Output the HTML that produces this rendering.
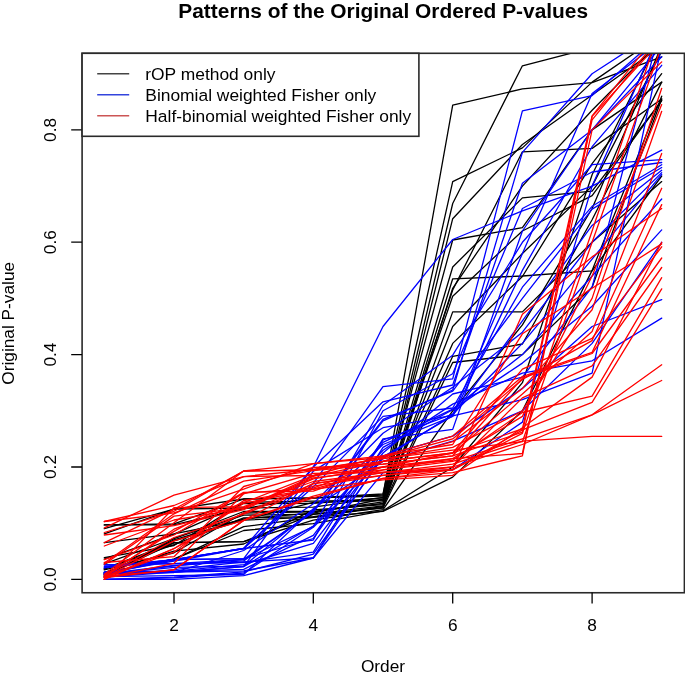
<!DOCTYPE html>
<html><head><meta charset="utf-8"><style>
html,body{margin:0;padding:0;background:#fff;}
svg{display:block;}
text{font-family:"Liberation Sans",Arial,sans-serif;fill:#000;}
</style></head><body>
<svg width="685" height="678" viewBox="0 0 685 678">
<rect width="685" height="678" fill="#fff"/>
<text x="383.2" y="17.8" font-size="20.9" font-weight="bold" text-anchor="middle">Patterns of the Original Ordered P-values</text>
<clipPath id="pc"><rect x="82" y="53.3" width="602.4" height="539.3"/></clipPath>
<g clip-path="url(#pc)" fill="none" stroke-width="1.3" stroke-linejoin="round" stroke-linecap="round">
<polyline points="104.3,533.9 174.0,509.2 243.7,499.0 313.3,497.9 383.0,495.1 452.7,105.2 522.4,88.9 592.1,82.7 661.7,56.8" stroke="#000"/>
<polyline points="104.3,559.1 174.0,534.2 243.7,503.5 313.3,503.4 383.0,497.9 452.7,203.5 522.4,65.8 592.1,47.8 661.7,28.7" stroke="#000"/>
<polyline points="104.3,524.9 174.0,523.8 243.7,499.0 313.3,497.9 383.0,494.0 452.7,181.6 522.4,147.9 592.1,82.1 661.7,34.4" stroke="#000"/>
<polyline points="104.3,542.7 174.0,533.9 243.7,520.0 313.3,502.4 383.0,500.7 452.7,218.7 522.4,144.5 592.1,95.0 661.7,45.6" stroke="#000"/>
<polyline points="104.3,524.9 174.0,524.9 243.7,508.5 313.3,497.9 383.0,496.2 452.7,240.0 522.4,227.7 592.1,129.9 661.7,82.1" stroke="#000"/>
<polyline points="104.3,569.9 174.0,552.8 243.7,513.0 313.3,511.9 383.0,501.9 452.7,267.0 522.4,197.9 592.1,191.1 661.7,100.7" stroke="#000"/>
<polyline points="104.3,574.5 174.0,539.8 243.7,518.8 313.3,513.2 383.0,499.0 452.7,290.0 522.4,151.8 592.1,148.4 661.7,99.0" stroke="#000"/>
<polyline points="104.3,576.2 174.0,538.5 243.7,511.5 313.3,511.4 383.0,503.5 452.7,278.8 522.4,276.0 592.1,270.9 661.7,176.0" stroke="#000"/>
<polyline points="104.3,575.2 174.0,540.9 243.7,520.1 313.3,517.1 383.0,506.4 452.7,288.3 522.4,186.1 592.1,110.2 661.7,40.0" stroke="#000"/>
<polyline points="104.3,528.7 174.0,509.2 243.7,508.0 313.3,507.2 383.0,497.4 452.7,296.2 522.4,231.0 592.1,195.6 661.7,100.7" stroke="#000"/>
<polyline points="104.3,569.2 174.0,544.7 243.7,517.8 313.3,516.7 383.0,507.5 452.7,311.9 522.4,311.9 592.1,242.3 661.7,181.6" stroke="#000"/>
<polyline points="104.3,572.3 174.0,551.2 243.7,544.0 313.3,509.9 383.0,504.7 452.7,326.5 522.4,253.5 592.1,186.1 661.7,51.2" stroke="#000"/>
<polyline points="104.3,557.7 174.0,545.5 243.7,502.3 313.3,501.1 383.0,500.0 452.7,343.4 522.4,276.5 592.1,163.6 661.7,73.7" stroke="#000"/>
<polyline points="104.3,563.9 174.0,538.5 243.7,515.2 313.3,514.1 383.0,505.8 452.7,356.3 522.4,344.0 592.1,219.8 661.7,82.1" stroke="#000"/>
<polyline points="104.3,568.7 174.0,542.7 243.7,541.6 313.3,514.3 383.0,508.0 452.7,362.5 522.4,354.6 592.1,287.2 661.7,99.0" stroke="#000"/>
<polyline points="104.3,575.5 174.0,542.8 243.7,541.7 313.3,520.2 383.0,509.7 452.7,410.8 522.4,324.9 592.1,208.5 661.7,45.6" stroke="#000"/>
<polyline points="104.3,573.0 174.0,559.2 243.7,530.5 313.3,523.7 383.0,510.8 452.7,467.0 522.4,382.7 592.1,174.8 661.7,34.4" stroke="#000"/>
<polyline points="104.3,573.2 174.0,559.2 243.7,526.7 313.3,517.3 383.0,511.4 452.7,477.1 522.4,410.8 592.1,270.4 661.7,96.2" stroke="#000"/>
<polyline points="104.3,566.5 174.0,559.7 243.7,548.5 313.3,467.0 383.0,326.5 452.7,239.5 522.4,210.8 592.1,186.1 661.7,150.1" stroke="#0000ff"/>
<polyline points="104.3,574.2 174.0,559.7 243.7,548.5 313.3,483.3 383.0,386.7 452.7,378.8 522.4,110.8 592.1,95.6 661.7,34.4" stroke="#0000ff"/>
<polyline points="104.3,572.8 174.0,559.7 243.7,558.6 313.3,467.0 383.0,401.8 452.7,385.0 522.4,183.3 592.1,129.9 661.7,56.8" stroke="#0000ff"/>
<polyline points="104.3,564.8 174.0,563.7 243.7,559.5 313.3,526.7 383.0,405.2 452.7,355.2 522.4,242.3 592.1,164.7 661.7,159.7" stroke="#0000ff"/>
<polyline points="104.3,567.8 174.0,559.7 243.7,548.5 313.3,540.0 383.0,410.8 452.7,373.7 522.4,208.5 592.1,172.0 661.7,162.5" stroke="#0000ff"/>
<polyline points="104.3,572.9 174.0,561.0 243.7,548.5 313.3,486.9 383.0,416.4 452.7,408.0 522.4,287.2 592.1,206.3 661.7,164.7" stroke="#0000ff"/>
<polyline points="104.3,574.0 174.0,565.5 243.7,560.9 313.3,511.1 383.0,419.3 452.7,391.2 522.4,298.4 592.1,209.1 661.7,167.5" stroke="#0000ff"/>
<polyline points="104.3,574.5 174.0,565.9 243.7,559.4 313.3,512.1 383.0,420.9 452.7,390.0 522.4,152.4 592.1,73.7 661.7,28.7" stroke="#0000ff"/>
<polyline points="104.3,573.3 174.0,572.2 243.7,566.6 313.3,471.1 383.0,427.7 452.7,415.3 522.4,320.9 592.1,225.4 661.7,170.3" stroke="#0000ff"/>
<polyline points="104.3,573.7 174.0,572.5 243.7,550.5 313.3,503.8 383.0,433.3 452.7,387.2 522.4,332.2 592.1,242.3 661.7,172.6" stroke="#0000ff"/>
<polyline points="104.3,564.8 174.0,563.7 243.7,562.5 313.3,552.1 383.0,438.9 452.7,429.4 522.4,231.0 592.1,129.9 661.7,45.6" stroke="#0000ff"/>
<polyline points="104.3,567.6 174.0,559.7 243.7,558.6 313.3,538.5 383.0,440.0 452.7,414.2 522.4,343.4 592.1,259.1 661.7,174.3" stroke="#0000ff"/>
<polyline points="104.3,572.5 174.0,571.4 243.7,569.3 313.3,535.3 383.0,442.3 452.7,409.1 522.4,354.6 592.1,276.0 661.7,199.0" stroke="#0000ff"/>
<polyline points="104.3,574.4 174.0,567.3 243.7,566.1 313.3,509.6 383.0,444.5 452.7,416.4 522.4,270.4 592.1,146.7 661.7,65.3" stroke="#0000ff"/>
<polyline points="104.3,577.0 174.0,572.0 243.7,570.9 313.3,558.0 383.0,447.4 452.7,409.7 522.4,363.1 592.1,306.3 661.7,229.9" stroke="#0000ff"/>
<polyline points="104.3,573.4 174.0,572.3 243.7,566.6 313.3,526.0 383.0,450.2 452.7,404.1 522.4,373.2 592.1,360.8 661.7,318.1" stroke="#0000ff"/>
<polyline points="104.3,571.9 174.0,571.1 243.7,564.7 313.3,543.4 383.0,453.0 452.7,394.0 522.4,377.1 592.1,287.2 661.7,23.1" stroke="#0000ff"/>
<polyline points="104.3,579.4 174.0,579.4 243.7,575.6 313.3,558.0 383.0,455.8 452.7,436.1 522.4,388.4 592.1,326.5 661.7,299.6" stroke="#0000ff"/>
<polyline points="104.3,579.4 174.0,577.2 243.7,571.9 313.3,554.2 383.0,456.9 452.7,415.9 522.4,399.6 592.1,373.2 661.7,45.6" stroke="#0000ff"/>
<polyline points="104.3,579.4 174.0,577.8 243.7,573.1 313.3,527.3 383.0,458.6 452.7,414.8 522.4,253.5 592.1,93.4 661.7,40.0" stroke="#0000ff"/>
<polyline points="104.3,576.7 174.0,575.6 243.7,574.5 313.3,508.8 383.0,461.4 452.7,441.2 522.4,410.8 592.1,343.4 661.7,242.3" stroke="#0000ff"/>
<polyline points="104.3,576.6 174.0,569.7 243.7,561.9 313.3,558.0 383.0,472.6 452.7,469.8 522.4,422.1 592.1,186.1 661.7,28.7" stroke="#0000ff"/>
<polyline points="104.3,563.0 174.0,513.8 243.7,481.1 313.3,470.6 383.0,464.2 452.7,455.8 522.4,432.2 592.1,119.8 661.7,34.4" stroke="#ff0000"/>
<polyline points="104.3,564.3 174.0,516.1 243.7,507.9 313.3,476.3 383.0,461.4 452.7,453.0 522.4,428.8 592.1,116.4 661.7,40.0" stroke="#ff0000"/>
<polyline points="104.3,576.8 174.0,529.2 243.7,502.6 313.3,475.7 383.0,467.0 452.7,458.6 522.4,453.5 592.1,129.9 661.7,61.9" stroke="#ff0000"/>
<polyline points="104.3,521.5 174.0,505.5 243.7,476.6 313.3,469.3 383.0,458.6 452.7,450.2 522.4,441.7 592.1,242.3 661.7,45.6" stroke="#ff0000"/>
<polyline points="104.3,577.7 174.0,548.5 243.7,512.9 313.3,483.9 383.0,472.6 452.7,464.2 522.4,441.2 592.1,436.4 661.7,436.4" stroke="#ff0000"/>
<polyline points="104.3,577.7 174.0,540.9 243.7,520.4 313.3,483.3 383.0,475.4 452.7,467.0 522.4,444.5 592.1,414.8 661.7,380.5" stroke="#ff0000"/>
<polyline points="104.3,577.3 174.0,552.1 243.7,500.5 313.3,489.2 383.0,469.8 452.7,461.4 522.4,438.9 592.1,414.8 661.7,364.8" stroke="#ff0000"/>
<polyline points="104.3,577.7 174.0,569.8 243.7,520.4 313.3,497.9 383.0,478.3 452.7,469.8 522.4,429.9 592.1,402.4 661.7,288.9" stroke="#ff0000"/>
<polyline points="104.3,535.0 174.0,525.6 243.7,509.6 313.3,478.9 383.0,467.0 452.7,460.3 522.4,412.5 592.1,396.2 661.7,277.7" stroke="#ff0000"/>
<polyline points="104.3,579.4 174.0,507.7 243.7,506.6 313.3,481.5 383.0,472.6 452.7,467.0 522.4,397.9 592.1,365.9 661.7,267.5" stroke="#ff0000"/>
<polyline points="104.3,562.5 174.0,556.7 243.7,486.5 313.3,467.5 383.0,464.2 452.7,455.8 522.4,378.2 592.1,353.5 661.7,258.0" stroke="#ff0000"/>
<polyline points="104.3,542.7 174.0,509.3 243.7,471.0 313.3,470.1 383.0,461.4 452.7,453.0 522.4,369.2 592.1,338.3 661.7,246.8" stroke="#ff0000"/>
<polyline points="104.3,532.5 174.0,511.3 243.7,471.0 313.3,469.8 383.0,458.6 452.7,447.4 522.4,410.8 592.1,298.4 661.7,88.3" stroke="#ff0000"/>
<polyline points="104.3,521.5 174.0,512.9 243.7,489.2 313.3,463.6 383.0,455.8 452.7,444.5 522.4,333.8 592.1,288.3 661.7,243.9" stroke="#ff0000"/>
<polyline points="104.3,546.0 174.0,520.0 243.7,508.3 313.3,477.9 383.0,469.8 452.7,458.6 522.4,416.4 592.1,276.0 661.7,104.6" stroke="#ff0000"/>
<polyline points="104.3,575.3 174.0,531.4 243.7,492.4 313.3,491.2 383.0,467.0 452.7,453.0 522.4,394.0 592.1,331.6 661.7,153.5" stroke="#ff0000"/>
<polyline points="104.3,559.7 174.0,535.0 243.7,493.1 313.3,488.1 383.0,461.4 452.7,441.7 522.4,388.4 592.1,309.7 661.7,111.3" stroke="#ff0000"/>
<polyline points="104.3,574.3 174.0,522.8 243.7,471.0 313.3,463.6 383.0,457.5 452.7,438.9 522.4,379.4 592.1,340.6 661.7,188.3" stroke="#ff0000"/>
<polyline points="104.3,527.8 174.0,495.1 243.7,476.6 313.3,475.5 383.0,455.8 452.7,436.1 522.4,376.6 592.1,352.4 661.7,204.6" stroke="#ff0000"/>
<polyline points="104.3,576.2 174.0,537.5 243.7,514.2 313.3,486.2 383.0,475.4 452.7,469.3 522.4,314.2 592.1,256.9 661.7,208.5" stroke="#ff0000"/>
<polyline points="104.3,576.3 174.0,569.8 243.7,520.4 313.3,496.2 383.0,478.3 452.7,472.6 522.4,455.8 592.1,115.8 661.7,28.7" stroke="#ff0000"/>
<polyline points="104.3,577.9 174.0,563.3 243.7,493.8 313.3,473.3 383.0,472.2 452.7,469.8 522.4,433.3 592.1,231.0 661.7,23.1" stroke="#ff0000"/>
<polyline points="104.3,579.4 174.0,548.7 243.7,503.3 313.3,489.4 383.0,479.9 452.7,475.4 522.4,427.7 592.1,377.1 661.7,242.3" stroke="#ff0000"/>
</g>
<g stroke="#000" stroke-width="1.5" fill="none">
<rect x="82.1" y="53.3" width="602.3" height="539.45" stroke="#2a2a2a" stroke-width="1.6"/>
<path d="M174.0,592.6V603.6M313.3,592.6V603.6M452.7,592.6V603.6M592.1,592.6V603.6" stroke-width="1.3"/>
<path d="M82,579.4H71.2M82,467.0H71.2M82,354.6H71.2M82,242.2H71.2M82,129.9H71.2" stroke-width="1.3"/>
</g>
<g font-size="17.3" text-anchor="middle">
<text x="174.0" y="630.5">2</text>
<text x="313.3" y="630.5">4</text>
<text x="452.7" y="630.5">6</text>
<text x="592.1" y="630.5">8</text>
<text x="383" y="672">Order</text>
<text transform="translate(56.4,579.4) rotate(-90)">0.0</text>
<text transform="translate(56.4,467.0) rotate(-90)">0.2</text>
<text transform="translate(56.4,354.6) rotate(-90)">0.4</text>
<text transform="translate(56.4,242.2) rotate(-90)">0.6</text>
<text transform="translate(56.4,129.9) rotate(-90)">0.8</text>
<text transform="translate(14.3,323.3) rotate(-90)">Original P-value</text>
</g>
<rect x="82.1" y="53.3" width="336.8" height="83" fill="#fff" stroke="#2a2a2a" stroke-width="1.6"/>
<g stroke-width="1.5">
<line x1="97.2" y1="73.8" x2="129.2" y2="73.8" stroke="#444"/>
<line x1="97.2" y1="94.8" x2="129.2" y2="94.8" stroke="#3344dd"/>
<line x1="97.2" y1="115.8" x2="129.2" y2="115.8" stroke="#cc5555"/>
</g>
<g font-size="17.4">
<text x="145.3" y="80.3">rOP method only</text>
<text x="145.3" y="101.3">Binomial weighted Fisher only</text>
<text x="145.3" y="122.3">Half-binomial weighted Fisher only</text>
</g>
</svg>
</body></html>
